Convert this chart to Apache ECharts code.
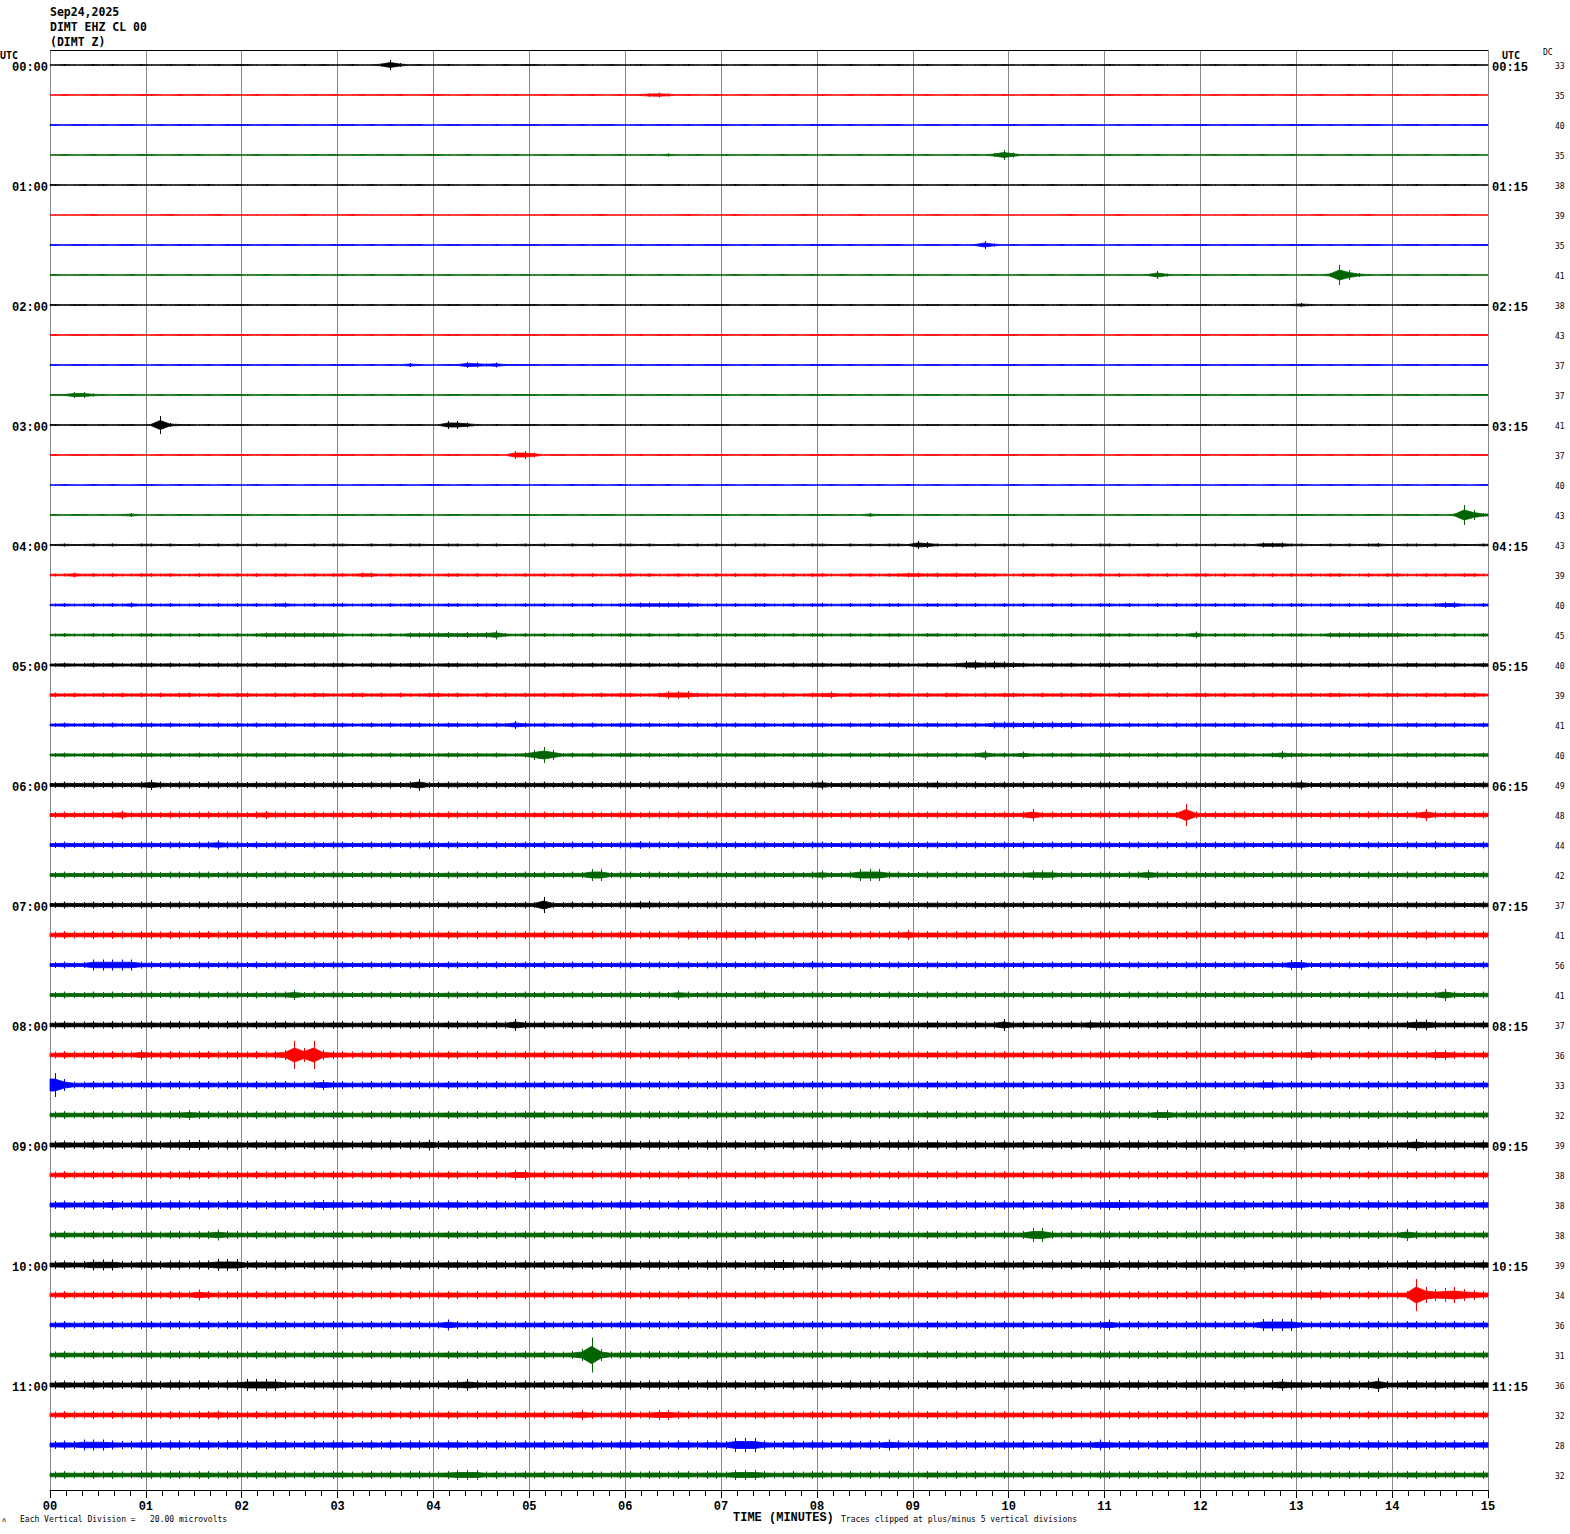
<!DOCTYPE html>
<html>
<head>
<meta charset="utf-8">
<script src="https://cdn.jsdelivr.net/npm/echarts@6/dist/echarts.min.js"></script>
<style>
html,body{margin:0;padding:0;background:#fff;}
#chart{width:1570px;height:1534px;}
</style>
</head>
<body>
<div id="chart"></div>
<script>
// ---- data ----
const quarterStarts = ['00:00','01:00','02:00','03:00','04:00','05:00','06:00','07:00','08:00','09:00','10:00','11:00'];
const quarterEnds = ['00:15','01:15','02:15','03:15','04:15','05:15','06:15','07:15','08:15','09:15','10:15','11:15'];
// DC offsets shown at the right of every trace
const dcValues = [33,35,40,35, 38,39,35,41, 38,43,37,37, 41,37,40,43,
                  43,39,40,45, 40,39,41,40, 49,48,44,42, 37,41,56,41,
                  37,36,33,32, 39,38,38,38, 39,34,36,31, 36,32,28,32];
// x tick labels (minutes)
const minuteLabels = ['00','01','02','03','04','05','06','07','08','09','10','11','12','13','14','15'];
// Trace envelope amplitudes, one base-36 digit per 6-second bin (10 bins per minute group)
const traces = [
"1211212112 1121211212 2112112121 12113a4121 1211211212 2112121121 1211212112 1121121211 2112112121 1211211212 1121211211 2112121121 1211212112 1121121211 2112112121",
"1211212112 2112121121 1211211212 1121212112 2112112121 1211212112 1245312112 1121121211 2112112121 1211211212 1121211211 2112121121 1211212112 1121121211 2112112121",
"2122121221 1212212122 2121221212 2212121221 1221212122 2122121221 1212212122 2121221212 2212121221 1221212122 2122121221 1212212122 2121221212 2212121221 1221212122",
"1211212112 2112121121 1211211212 1121212112 2112112121 1211212112 1121311211 2112112121 1211211212 121121214a 5121211211 2112121121 1211212112 1121121211 2112112121",
"2112121121 1211212112 1121121211 2112112121 1211211212 1121211211 2112121121 1211212112 1121121211 2112112121 1211211212 1121211211 2112121121 1211212112 1121121211",
"1111211111 1121111211 1111112111 1211111121 1111211111 1121111211 1111112111 1211111121 1111211111 1121111211 1111112111 1211111121 1111211111 1121111211 1111112111",
"2122121221 1212212122 2121221212 2212121221 1221212122 2122121221 1212212122 2121221212 2212121221 1221212831 2122121221 1212212122 2121221212 2212121221 1221212122",
"2112121121 1211212112 1121121211 2112112121 1211211212 1121211211 2112121121 1211212112 1121121211 2112112121 1211211212 1121283121 2112121121 1214ka4212 1121121211",
"2122121221 1212212122 2121221212 2212121221 1221212122 2122121221 1212212122 2121221212 2212121221 1221212122 2122121221 1212212122 2121221212 4212121221 1221212122",
"2122121221 1212212122 2121221212 2212121221 1221212122 2122121221 1212212122 2121221212 2212121221 1221212122 2122121221 1212212122 2121221212 2212121221 1221212122",
"2122121221 1212212122 2121221212 2212121421 1226535222 2122121221 1212212122 2121221212 2212121221 1221212122 2122121221 1212212122 2121221212 2212121221 1221212122",
"2266321221 1212212122 2121221212 2212121221 1221212122 2122121221 1212212122 2121221212 2212121221 1221212122 2122121221 1212212122 2121221212 2212121221 1221212122",
"2122121221 2i42212122 2121221212 2212121221 1885212122 2122121221 1212212122 2121221212 2212121221 1221212122 2122121221 1212212122 2121221212 2212121221 1221212122",
"2122121221 1212212122 2121221212 2212121221 1221212188 5122121221 1212212122 2121221212 2212121221 1221212122 2122121221 1212212122 2121221212 2212121221 1221212122",
"1211212112 2112121121 1211211212 1121212112 2112112121 1211212112 1121211211 2112121121 1211212112 1121121211 2112112121 1211211212 1121211211 2112121121 1211212112",
"2122121241 1212212122 2121221212 2212121221 1221212122 2122121221 1212212122 2121221212 2212142221 1221212122 2122121221 1212212122 2121221212 2212121221 1221213ka4",
"2322323223 3232232323 2323322323 3223232332 2332323223 2322323223 3232232323 2323322323 3223232332 8632323223 2322323223 3232232323 2323325553 3223232342 2332323223",
"3353434334 4343343434 3434433434 4355343443 3443434334 3433434334 4343343434 3434433434 4334343445 5454545443 3443434334 3433434334 4343343434 3434433434 4334343443",
"3433434353 4343343434 3434533434 4334343443 3443434334 3433434334 4555555434 3434433434 4334343443 3443434334 3433434334 4343343434 3434433434 4334343443 3443466334",
"3433434334 4343343434 3455555555 4334343555 5656569434 3433434334 4343343434 3434433434 4334343443 3443434334 3433434334 4343343437 3434433434 4335555555 5443434334",
"4544545445 5454454545 4545544545 5445454554 4554545445 4544545445 5454454545 4545544545 5445454554 4554589787 6544545445 5454454545 4545544545 5445454554 4554545445",
"5454454545 4545544545 5445454554 4554545445 5454454545 4545544545 5445888554 4554545445 5745454554 4545544545 5445454554 4554545445 5454454545 4545544545 5445454554",
"4544545445 5454454545 4545544545 5445454554 4554545485 4544545445 5454454545 4545544545 5445454554 4554545477 7676767545 5454454545 4545544545 5445454554 4554545445",
"4544545445 5454454545 4545544545 5445454554 4554545445 aga4545445 5454454545 4545544545 5445454554 4554545945 4744545445 5454454545 4545544585 5445454554 4554545445",
"6766767667 a767767767 6767766767 76676767c6 6776767667 6766767667 7677677677 6767766767 9667676776 6786767667 6766767667 7677677677 6767766767 9667676776 6776767667",
"6766767967 7677677677 6787766767 7668676776 6776767667 6766767667 7677677677 6767766767 7667676776 6776767667 67c6767667 76776776m7 6767766767 7667676776 677c767667",
"6766767667 7677677977 6767766767 7667676778 6776767667 6766767667 7877677677 6767766767 7667676776 6776767667 6766767667 7677677677 6767766767 7667676776 6776867667",
"6766767667 7677677677 6767766767 7667676776 6776767667 676676cc67 7677677677 6767766767 9667ccc776 6776767667 6799967667 7677a77677 6767766767 7667676776 6776767667",
"6766767667 7677677677 6767766767 7667676776 6776767667 6g66767667 7887677677 6767766767 7667676776 6776767667 6766767667 7677677677 6867766767 7667676776 6776767667",
"7877878778 8788788788 7878877878 8778787887 7887878778 7877878778 8788789999 9999877878 877878788a 7887888778 7877878778 8788788788 7878877878 8778787887 7889878778",
"6766bbbbb7 7677677677 6767766767 7667676776 6776767667 6766767667 7677677677 6767766768 7667676776 6776767667 6766767667 7677677677 676776676a a667676776 6776767667",
"6766767667 7677677677 67677a6767 7667676776 6776767667 6766767667 7677697677 6767866767 7667676776 6776767667 6766767667 7677677677 6767766767 7667676776 67767c7667",
"7877878778 8788788788 7878877878 8778787887 78878787c8 7877878778 8788788788 7878877878 8778787887 788787877c 7877878798 8788788788 7878877878 8778787887 78bb878778",
"787787877a 8788788788 7878asesa8 8778787887 7887878778 7877878778 8788788788 7878877878 8778787887 7887878778 7877878778 8788788788 7878877878 8a78787887 7887aa8778",
"oc77878778 8788788788 78788778a8 8778787887 7887878778 7877878778 8788788788 7878877878 8778787887 7887878778 7877878778 8788788788 7878879978 8778787887 7887878778",
"7877878778 8788a88788 7878877878 8778787887 7887878778 8877878778 8788788788 7878877878 8778787887 7887878778 7877878778 87887aa788 7878877878 8778787887 7887878778",
"8988989889 9899aa9899 8989988989 988989898b 8998989889 8988989889 9899899899 8989988989 9889898999 8998989889 8988989889 9899899899 8989988989 9889898998 89c8989889",
"7877878778 8788988788 7878877878 8778787887 78878787aa 7877878778 8788788788 7878877878 8778787887 7887878778 7877878778 8788788788 7878877878 8778787887 7887878778",
"898898a889 9899899899 89899889a9 9889898998 8998989889 8988989889 9899899899 8989988989 9889898998 8998989889 8988989889 aa99899899 8989988989 9889898998 8998989889",
"7877878778 8788788b88 7878877878 8778787887 7887878778 7877878778 8788788788 7878877878 8778787887 7887878778 78ee878778 8788788788 7878877878 8778787887 7c87878778",
"8988bbb889 9899899ccc 8989988989 9889898998 8998989889 8988989889 9899899899 89899aa989 9889898998 8998989889 8988989889 a899899899 8989988989 9889898998 8998989889",
"7877878778 87887b8788 7878877878 8778787887 7887878778 7877878778 8788788788 7878877878 8778787887 7887878778 7877878778 8788788788 7878877878 8998787887 78wgcegca8",
"7877878778 8788788788 7878877878 8778787887 7b87878778 7877878778 8788788788 7878877878 8778787887 7887878778 7877878778 b788788788 787887cccc 8778787887 7887878778",
"7877878778 8788788788 7878877878 8778787887 7887878778 78778czc78 8788788788 7878877878 8778787887 7887878778 7877878778 8788788788 7878877878 8778787887 7887878778",
"8988989889 9899899899 cccc988989 9889898998 899c989889 8988989889 9899899899 8989988989 9889898998 8998989889 8988989889 9899899899 89899889c9 98898989e8 8998989889",
"7877878778 8788788988 7878877878 8778787887 7887878778 78778a8778 878aa88788 7878877878 8778787887 7887878778 7877878778 8788788788 7878877878 8778787887 7887878778",
"898bbb9889 9899899899 8989988989 9889898998 8998989889 8988989889 9899899899 8eee988989 9889898b98 8998989889 898898988b 9899899899 8989988989 9889898998 8998989889",
"7877878778 8788788788 7878877878 8778787887 78aaa78778 7877878778 8788788788 7aaa877878 8778787887 7887878778 7877878778 8788788788 7878877878 8778787887 7887878778"
];
const traceColors = ['#000000','#ff0000','#0000ff','#006400'];

// ---- build ----
const N = traces.length;           // 48 traces
const SPACING = 60;                // y units between trace baselines (half-pixel units)
const leftLabels = [], rightLabels = [];
for (let i = 0; i < N; i++) {
  leftLabels.push(i % 4 === 0 ? quarterStarts[i / 4] : '');
  rightLabels.push(i % 4 === 0 ? quarterEnds[i / 4] : '');
}
const envelopes = traces.map(s => s.replace(/\s+/g, '').split('').map(c => parseInt(c, 36)));

// each trace: a core band (half the bin envelope) plus one vertical stroke per bin
// reaching the bin's full min/max envelope
function renderTrace(params, api) {
  const i = params.dataIndex;
  const env = envelopes[i];
  const n = env.length;
  const base = i * SPACING + SPACING / 2;
  const c = traceColors[i % 4];
  const upper = [api.coord([0, base - env[0] / 2])];
  const lower = [api.coord([0, base + env[0] / 2])];
  const children = [];
  for (let k = 0; k < n; k++) {
    const x = (k + 0.5) * 15 / n;
    upper.push(api.coord([x, base - env[k] / 2]));
    lower.push(api.coord([x, base + env[k] / 2]));
    const p1 = api.coord([x, base - env[k]]);
    const p2 = api.coord([x, base + env[k]]);
    const px = Math.round(p1[0]) + 0.5;
    children.push({
      type: 'line', silent: true,
      shape: {x1: px, y1: p1[1], x2: px, y2: p2[1]},
      style: {stroke: c, lineWidth: 1}
    });
  }
  upper.push(api.coord([15, base - env[n - 1] / 2]));
  lower.push(api.coord([15, base + env[n - 1] / 2]));
  children.unshift({
    type: 'polygon', silent: true,
    shape: {points: upper.concat(lower.reverse())},
    style: {fill: c, stroke: c, lineWidth: 0.8}
  });
  return {type: 'group', children: children};
}

const chart = echarts.init(document.getElementById('chart'), null, {renderer: 'svg'});
const mono = '"Liberation Mono","DejaVu Sans Mono",monospace';
const mono2 = '"DejaVu Sans Mono","Liberation Mono",monospace';
chart.setOption({
  backgroundColor: '#ffffff',
  animation: false,
  grid: {left: 50, right: 82, top: 50, bottom: 44, containLabel: false},
  xAxis: [{
    type: 'value', min: 0, max: 15, interval: 1, position: 'bottom', yAxisIndex: 0,
    axisLine: {show: true, onZero: false, lineStyle: {color: '#000', width: 1}},
    axisTick: {show: true, length: 8, lineStyle: {color: '#000'}},
    minorTick: {show: true, splitNumber: 6, length: 6, lineStyle: {color: '#000'}},
    splitLine: {show: true, lineStyle: {color: '#888888', width: 1}},
    axisLabel: {
      formatter: v => minuteLabels[Math.round(v)],
      color: '#000', fontFamily: mono, fontWeight: 'bold', fontSize: 12, margin: 11
    }
  }],
  yAxis: [{
    type: 'value', min: 0, max: N * SPACING, inverse: true, show: false,
    axisLine: {onZero: false}
  }, {
    type: 'category', data: leftLabels, inverse: true, position: 'left',
    axisLine: {show: false, onZero: false}, axisTick: {show: false}, splitLine: {show: false},
    axisLabel: {interval: 0, formatter: v => v ? '{t|' + v + '}' : '', margin: 2,
      rich: {t: {color: '#000', fontFamily: mono, fontWeight: 'bold', fontSize: 12, padding: [6, 0, 0, 0]}}}
  }, {
    type: 'category', data: rightLabels, inverse: true, position: 'right',
    axisLine: {show: false, onZero: false}, axisTick: {show: false}, splitLine: {show: false},
    axisLabel: {interval: 0, formatter: v => v ? '{t|' + v + '}' : '', margin: 4,
      rich: {t: {color: '#000', fontFamily: mono, fontWeight: 'bold', fontSize: 12, padding: [6, 0, 0, 0]}}}
  }, {
    type: 'category', data: dcValues.map(String), inverse: true, position: 'right', offset: 62,
    axisLine: {show: false, onZero: false}, axisTick: {show: false}, splitLine: {show: false},
    axisLabel: {interval: 0, formatter: v => '{d|' + v + '}', margin: 5,
      rich: {d: {color: '#000', fontFamily: mono2, fontSize: 8, padding: [3, 0, 0, 0]}}}
  }],
  graphic: [
    {type: 'text', left: 50, top: 6, style: {text: 'Sep24,2025', font: 'bold 11.5px ' + mono2, fill: '#000'}},
    {type: 'text', left: 50, top: 21, style: {text: 'DIMT EHZ CL 00', font: 'bold 11.5px ' + mono2, fill: '#000'}},
    {type: 'text', left: 50, top: 36, style: {text: '(DIMT Z)', font: 'bold 11.5px ' + mono2, fill: '#000'}},
    {type: 'text', left: 0, top: 50, style: {text: 'UTC', font: 'bold 10px ' + mono2, fill: '#000'}},
    {type: 'text', left: 1502, top: 50, style: {text: 'UTC', font: 'bold 10px ' + mono2, fill: '#000'}},
    {type: 'text', left: 1543, top: 48, style: {text: 'DC', font: '8px ' + mono2, fill: '#000'}},
    {type: 'text', left: 733, top: 1512, style: {text: 'TIME (MINUTES)', font: 'bold 12px ' + mono, fill: '#000'}},
    {type: 'text', left: 2, top: 1516, style: {text: '\u028C', font: '7px ' + mono2, fill: '#000'}},
    {type: 'text', left: 20, top: 1515, style: {text: 'Each Vertical Division =   20.00 microvolts', font: '8px ' + mono2, fill: '#000'}},
    {type: 'text', left: 841, top: 1515, style: {text: 'Traces clipped at plus/minus 5 vertical divisions', font: '8px ' + mono2, fill: '#000'}}
  ],
  series: [{
    type: 'custom', coordinateSystem: 'cartesian2d', xAxisIndex: 0, yAxisIndex: 0,
    clip: false, silent: true, animation: false,
    data: envelopes.map((e, i) => [0, i * SPACING + SPACING / 2]),
    encode: {x: 0, y: 1},
    renderItem: renderTrace, z: 5
  }, {
    // top frame line of the plot area, placed through the y scale
    type: 'line', xAxisIndex: 0, yAxisIndex: 0, data: [], silent: true,
    markLine: {
      silent: true, symbol: ['none', 'none'], animation: false,
      label: {show: false},
      lineStyle: {color: '#000', width: 1, type: 'solid'},
      data: [{yAxis: 0}]
    }
  }]
});
</script>
</body>
</html>
